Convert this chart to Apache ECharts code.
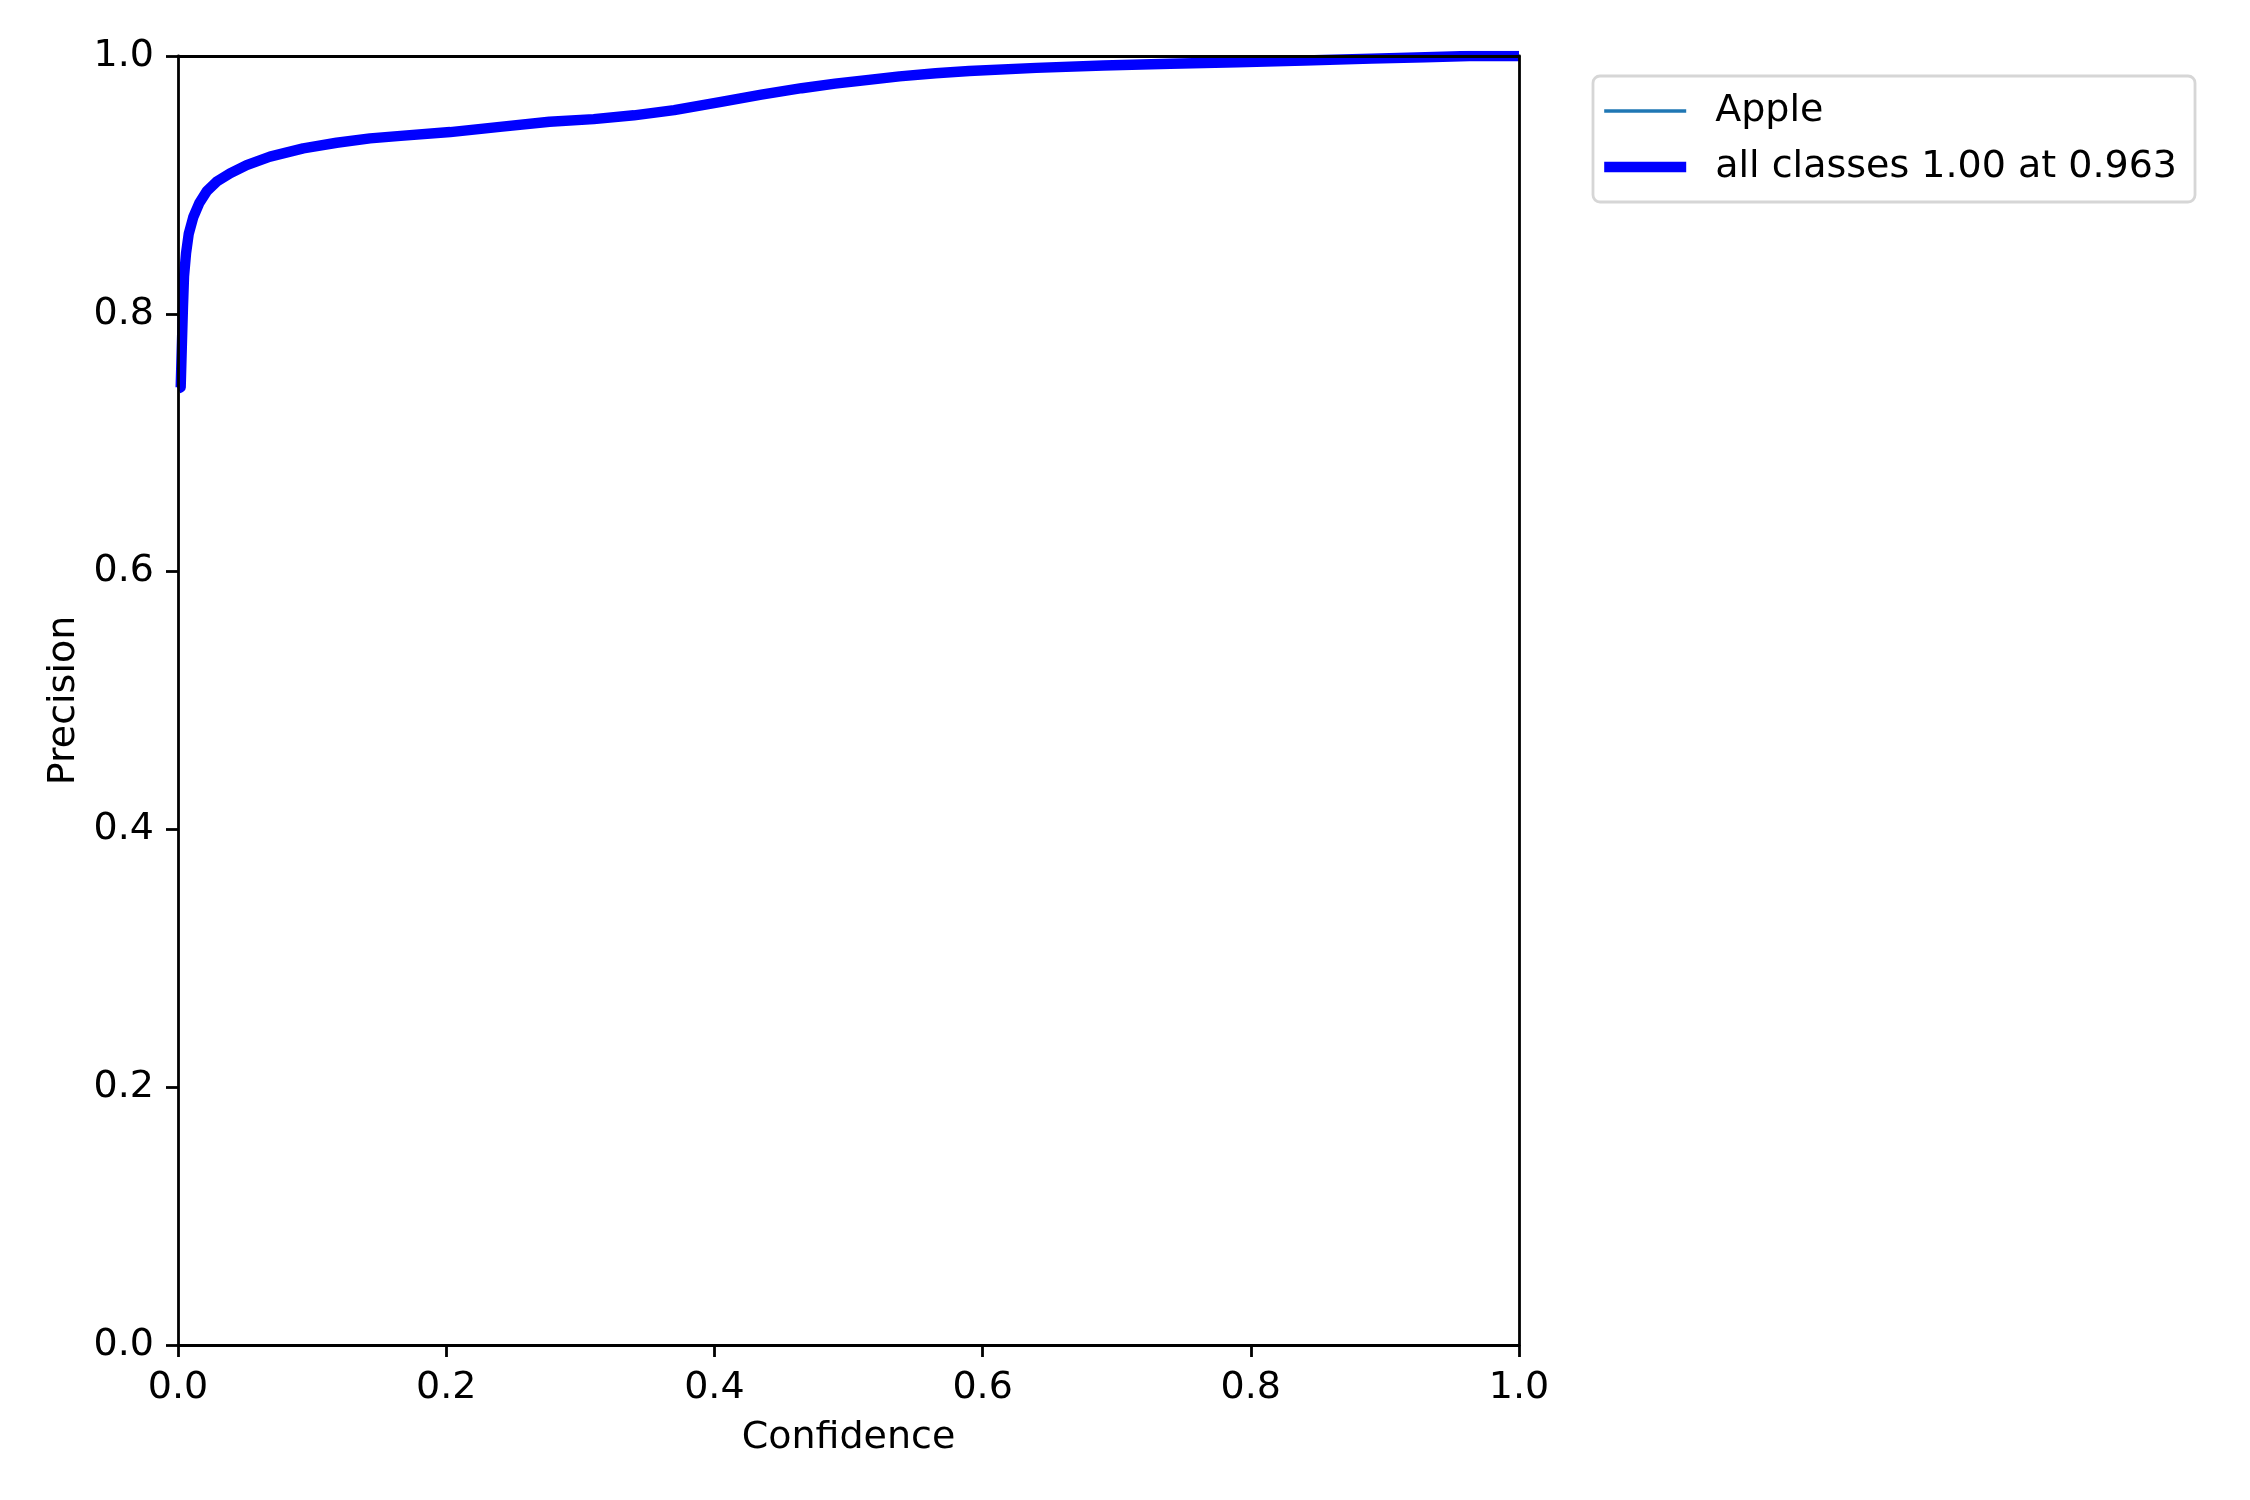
<!DOCTYPE html>
<html>
<head>
<meta charset="utf-8">
<script src="https://cdn.jsdelivr.net/npm/echarts@6/dist/echarts.min.js"></script>
<style>
html,body{margin:0;padding:0;background:#fff;}
#chart{width:2250px;height:1500px;}
</style>
</head>
<body>
<div id="chart"></div>
<script>
// Data
const confidence = [0, 0.002, 0.003, 0.0037, 0.0045, 0.006, 0.008, 0.0114, 0.0159, 0.0214, 0.0288, 0.0388, 0.0512, 0.0686, 0.0934, 0.1183, 0.1432, 0.166, 0.203, 0.240, 0.277, 0.31, 0.34, 0.37, 0.405, 0.435, 0.465, 0.49, 0.515, 0.538, 0.565, 0.59, 0.64, 0.69, 0.74, 0.79, 0.84, 0.89, 0.93, 0.963, 1.0];
const precision  = [0.742, 0.743, 0.78, 0.805, 0.829, 0.847, 0.862, 0.875, 0.886, 0.895, 0.9025, 0.909, 0.9154, 0.9219, 0.9283, 0.9327, 0.9361, 0.938, 0.941, 0.945, 0.949, 0.951, 0.954, 0.958, 0.9645, 0.970, 0.975, 0.9785, 0.9815, 0.9842, 0.9866, 0.9884, 0.9908, 0.9926, 0.994, 0.9951, 0.9965, 0.998, 0.999, 1.0, 1.0];
const seriesNames = ['Apple', 'all classes 1.00 at 0.963'];
const tickValues = [0, 0.2, 0.4, 0.6, 0.8, 1.0];
const tickLabels = ['0.0', '0.2', '0.4', '0.6', '0.8', '1.0'];
const xTitle = 'Confidence';
const yTitle = 'Precision';

const points = confidence.map((c, i) => [c, precision[i]]);
const FONT = 'DejaVu Sans';
const FS = 38;
const fmt = v => {
  const i = tickValues.findIndex(t => Math.abs(t - v) < 1e-9);
  return i >= 0 ? tickLabels[i] : '';
};
const axisLineStyle = {color: '#000', width: 2.8};
const labelStyle = {fontSize: FS, color: '#000', fontFamily: FONT, margin: 24, formatter: fmt};

const chart = echarts.init(document.getElementById('chart'), null, {renderer: 'canvas'});
chart.setOption({
  animation: false,
  backgroundColor: '#fff',
  grid: {left: 178, top: 56, width: 1341, height: 1289, containLabel: false},
  legend: {
    orient: 'vertical',
    left: 1593, top: 76,
    padding: [13, 18, 13, 6],
    borderColor: '#d6d6d6', borderWidth: 2.8, borderRadius: 7,
    backgroundColor: '#fff',
    itemWidth: 82, itemHeight: 14, itemGap: 12,
    itemStyle: {opacity: 0},
    textStyle: {fontSize: FS, color: '#000', fontFamily: FONT, lineHeight: 44, padding: [0, 0, 0, 24]},
    data: [
      {name: seriesNames[0], lineStyle: {width: 3.5, color: '#1f77b4'}},
      {name: seriesNames[1], lineStyle: {width: 10.4, color: '#0000ff'}}
    ]
  },
  xAxis: [{
    type: 'value', min: 0, max: 1, interval: 0.2, z: 10,
    name: xTitle, nameLocation: 'middle', nameGap: 74,
    nameTextStyle: {fontSize: FS, color: '#000', fontFamily: FONT},
    axisLine: {show: true, lineStyle: axisLineStyle},
    axisTick: {show: true, inside: false, length: 12, lineStyle: axisLineStyle},
    axisLabel: labelStyle,
    splitLine: {show: false}
  }, {
    type: 'value', position: 'top', min: 0, max: 1, z: 10,
    axisLine: {show: true, onZero: false, lineStyle: axisLineStyle},
    axisTick: {show: false}, axisLabel: {show: false}, splitLine: {show: false}
  }],
  yAxis: [{
    type: 'value', min: 0, max: 1, interval: 0.2, z: 10,
    name: yTitle, nameLocation: 'middle', nameGap: 94, nameRotate: 90,
    nameTextStyle: {fontSize: FS, color: '#000', fontFamily: FONT},
    axisLine: {show: true, lineStyle: axisLineStyle},
    axisTick: {show: true, inside: false, length: 12, lineStyle: axisLineStyle},
    axisLabel: labelStyle,
    splitLine: {show: false}
  }, {
    type: 'value', position: 'right', min: 0, max: 1, z: 10,
    axisLine: {show: true, onZero: false, lineStyle: axisLineStyle},
    axisTick: {show: false}, axisLabel: {show: false}, splitLine: {show: false}
  }],
  series: [{
    name: seriesNames[0], type: 'line', xAxisIndex: 0, yAxisIndex: 0,
    data: points, showSymbol: false, symbol: 'none', smooth: false, clip: true,
    lineStyle: {color: '#1f77b4', width: 3.5, join: 'round'}, itemStyle: {color: '#1f77b4'}
  }, {
    name: seriesNames[1], type: 'line', xAxisIndex: 0, yAxisIndex: 0,
    data: points, showSymbol: false, symbol: 'none', smooth: false, clip: true,
    lineStyle: {color: '#0000ff', width: 10.4, join: 'round'}, itemStyle: {color: '#0000ff'}
  }]
});
</script>
</body>
</html>
